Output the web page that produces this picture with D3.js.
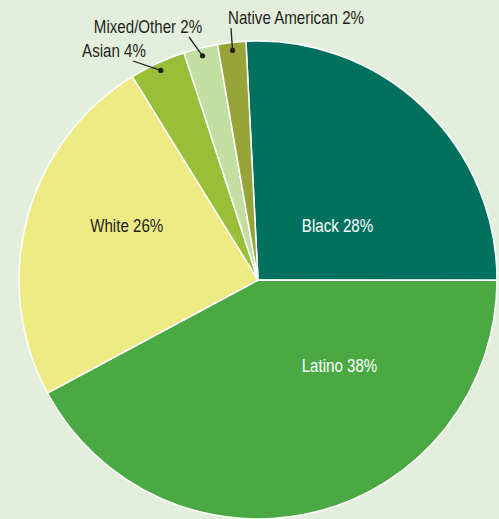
<!DOCTYPE html>
<html><head><meta charset="utf-8">
<script src="https://cdn.jsdelivr.net/npm/d3@7"></script>
<style>
html,body{margin:0;padding:0;background:#e3efdc;}
svg{display:block;}
text{font-family:"Liberation Sans Narrow","Arial Narrow","Liberation Sans",Arial,sans-serif;}
</style></head>
<body>
<svg id="chart" width="499" height="519"></svg>
<script>
const categories = ["Black", "Latino", "White", "Asian", "Mixed/Other", "Native American"];
const values = [25.8, 42.1, 24.0, 3.8, 2.3, 1.9];
const labels = ["Black 28%", "Latino 38%", "White 26%", "Asian 4%", "Mixed/Other 2%", "Native American 2%"];
const colors = ["#00705f", "#4aa943", "#eeeb85", "#98bf37", "#c1dfa1", "#97a538"];

const W = 499, H = 519;
const cx = 258, cy = 280, R = 239;
const startDeg = -2.9;
const FS = 18, SX = 0.84;

const svg = d3.select("#chart");
svg.append("rect").attr("width", W).attr("height", H).attr("fill", "#e3efdc");
const g = svg.append("g").attr("transform", `translate(${cx},${cy})`);

const pie = d3.pie().sort(null)
  .startAngle(startDeg * Math.PI / 180)
  .endAngle((startDeg + 360) * Math.PI / 180);
const arcs = pie(values);
const arc = d3.arc().innerRadius(0).outerRadius(R);

g.selectAll("path.slice").data(arcs).enter().append("path")
  .attr("class", "slice")
  .attr("d", arc)
  .attr("fill", (d, i) => colors[i])
  .attr("stroke", "#ffffff")
  .attr("stroke-width", 1.5)
  .attr("stroke-linejoin", "round");

function addText(x, y, txt, fill) {
  g.append("text")
    .attr("transform", `translate(${x},${y}) scale(${SX},1)`)
    .attr("text-anchor", "middle")
    .attr("font-size", FS)
    .attr("fill", fill)
    .text(txt);
}

// Layout: which labels sit inside, and their positions relative to center
const inside = {0: {dx: 79.5, dy: -48, fill: "#ffffff"}, 1: {dx: 81.5, dy: 92, fill: "#ffffff"}, 2: {dx: -131.3, dy: -48, fill: "#231f20"}};
const outside = {
  3: {tx: -144, ty: -223, lineFrom: [-125, -219]},
  4: {tx: -110, ty: -247, lineFrom: [-69, -243]},
  5: {tx: 38, ty: -256, lineFrom: [-27, -252]}
};

arcs.forEach((d, i) => {
  if (inside[i]) {
    const p = inside[i];
    addText(p.dx, p.dy, labels[i], p.fill);
  } else if (outside[i]) {
    const p = outside[i];
    const dot = d3.arc().innerRadius(231).outerRadius(231).centroid(d);
    g.append("line")
      .attr("x1", p.lineFrom[0]).attr("y1", p.lineFrom[1])
      .attr("x2", dot[0]).attr("y2", dot[1])
      .attr("stroke", "#231f20").attr("stroke-width", 1.3);
    g.append("circle").attr("cx", dot[0]).attr("cy", dot[1]).attr("r", 2.6).attr("fill", "#231f20");
    addText(p.tx, p.ty, labels[i], "#231f20");
  }
});
</script>
</body></html>
